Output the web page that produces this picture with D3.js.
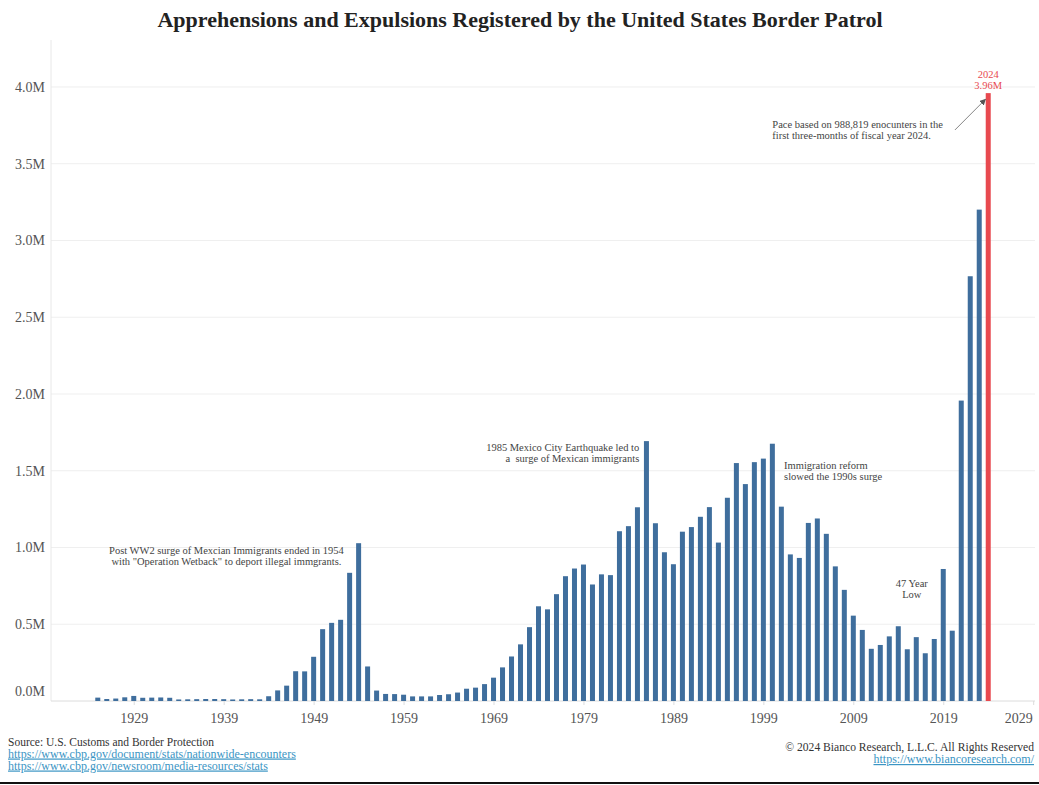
<!DOCTYPE html>
<html>
<head>
<meta charset="utf-8">
<script src="https://cdn.jsdelivr.net/npm/d3@7"></script>
<style>
    body { margin: 0; background: #fff; }
    svg { display: block; font-family: "Liberation Serif", "Times New Roman", serif; }
    .tick-label { fill: #555; font-size: 14px; }
    .note { fill: #444; font-size: 10.5px; }
    .link { fill: #3b95c4; text-decoration: underline; }
</style>
</head>
<body>
<div id="chart"></div>
<script>
// data (thousands of apprehensions / encounters per fiscal year)

var firstYear = 1925
var apprehensions = [
    22, 13, 16, 24, 33, 21, 22, 23, 21, 10,
    11, 12, 13, 13, 12, 10, 11, 12, 11, 31,
    69, 100, 194, 193, 288, 468, 509, 529, 835, 1028,
    225, 68, 46, 45, 41, 30, 30, 30, 39, 44,
    55, 80, 87, 110, 152, 219, 290, 369, 481, 617,
    597, 696, 813, 863, 889, 759, 825, 820, 1106, 1139,
    1262, 1693, 1158, 969, 891, 1103, 1133, 1200, 1263, 1032,
    1324, 1550, 1413, 1556, 1579, 1676, 1266, 955, 932, 1160,
    1189, 1089, 877, 724, 556, 463, 340, 365, 421, 487,
    337, 416, 311, 404, 860, 458, 1957, 2767, 3201, 3960
]
var years = d3.range(firstYear, firstYear + apprehensions.length)
var paceYear = 2024
var xTicks = [1929, 1939, 1949, 1959, 1969, 1979, 1989, 1999, 2009, 2019, 2029]
var yTicks = [0, 0.5, 1, 1.5, 2, 2.5, 3, 3.5, 4]

var notes = [
    {lines: ['Post WW2 surge of Mexcian Immigrants ended in 1954', 'with "Operation Wetback" to deport illegal immgrants.'], year: 1939.3, value: 0.955, anchor: 'middle'},
    {lines: ['1985 Mexico City Earthquake led to', 'a\u00a0 surge of Mexican immigrants'], year: 1985.2, value: 1.63, anchor: 'end'},
    {lines: ['Immigration reform', 'slowed the 1990s surge'], year: 2001.3, value: 1.51, anchor: 'start'},
    {lines: ['47 Year', 'Low'], year: 2015.5, value: 0.74, anchor: 'middle'},
    {lines: ['Pace based on 988,819 enocunters in the', 'first three-months of fiscal year 2024.'], year: 2000, value: 3.73, anchor: 'start'}
]

// setup SVG

var w = 1039
var h = 785
var plotLeft = 51
var plotRight = 1035
var plotTop = 40
var plotBottom = 701

var svg = d3.select("#chart")
    .append("svg")
    .attr("width", w)
    .attr("height", h)

var x = d3.scaleLinear()
    .domain([1919.8, 2029.2])
    .range([plotLeft, plotRight])

var y = d3.scaleLinear()
    .domain([0, 4.306])
    .range([plotBottom, plotTop])

// title

svg.append("text")
    .attr("x", 520)
    .attr("y", 27)
    .attr("text-anchor", "middle")
    .attr("font-size", 22)
    .attr("font-weight", "bold")
    .attr("fill", "#222")
    .text("Apprehensions and Expulsions Registered by the United States Border Patrol")

// grid and axes

svg.selectAll(".grid")
    .data(yTicks.slice(1))
    .enter()
    .append("line")
    .attr("x1", plotLeft)
    .attr("x2", plotRight)
    .attr("y1", d => y(d))
    .attr("y2", d => y(d))
    .attr("stroke", "#efefef")

svg.append("line")
    .attr("x1", plotLeft).attr("x2", plotLeft)
    .attr("y1", plotTop).attr("y2", plotBottom)
    .attr("stroke", "#e8e8e8")

var yAxis = svg.append("g")
    .attr("transform", "translate(" + plotLeft + ",0)")
    .call(d3.axisLeft(y).tickValues(yTicks).tickSize(0).tickPadding(6)
        .tickFormat(d => d3.format(".1f")(d) + "M"))
    .attr("font-family", null)
    .attr("font-size", null)
yAxis.select(".domain").remove()
yAxis.selectAll("text")
    .attr("class", "tick-label")
    .attr("dy", d => d === 0 ? "-0.4em" : "0.32em")

var xAxis = svg.append("g")
    .attr("transform", "translate(0," + plotBottom + ")")
    .call(d3.axisBottom(x).tickValues(xTicks).tickSize(4).tickPadding(8).tickFormat(d3.format("d")))
    .attr("font-family", null)
    .attr("font-size", null)
xAxis.select(".domain")
    .attr("d", "M" + plotLeft + ",0H" + plotRight)
    .attr("stroke", "#dcdcdc")
xAxis.selectAll(".tick line").attr("stroke", "#dcdcdc")
xAxis.selectAll("text")
    .attr("class", "tick-label")
// last label kept inside the frame
xAxis.selectAll(".tick text")
    .filter(d => d === 2029)
    .attr("text-anchor", "end")
    .attr("x", -1)

// bars

var barW = 5

svg.selectAll(".bar")
    .data(years)
    .enter()
    .append("rect")
    .attr("class", "bar")
    .attr("x", d => x(d) - barW / 2)
    .attr("width", barW)
    .attr("y", (d, i) => y(apprehensions[i] / 1000))
    .attr("height", (d, i) => plotBottom - y(apprehensions[i] / 1000))
    .attr("fill", d => d === paceYear ? "#e8494f" : "#3f6e9d")

// labels for the 2024 pace bar

var paceValue = apprehensions[years.indexOf(paceYear)] / 1000
var paceLabel = svg.append("text")
    .attr("text-anchor", "middle")
    .attr("font-size", 10.5)
    .attr("fill", "#e8494f")
paceLabel.append("tspan")
    .attr("x", x(paceYear))
    .attr("y", y(paceValue) - 15)
    .text(paceYear)
paceLabel.append("tspan")
    .attr("x", x(paceYear))
    .attr("y", y(paceValue) - 4)
    .text(d3.format(".2f")(paceValue) + "M")

// annotations

notes.forEach(function(n) {
    var t = svg.append("text")
        .attr("class", "note")
        .attr("text-anchor", n.anchor)
    n.lines.forEach(function(line, i) {
        t.append("tspan")
            .attr("x", x(n.year))
            .attr("y", y(n.value) + i * 11)
            .text(line)
    })
})

svg.append("defs")
    .append("marker")
    .attr("id", "head")
    .attr("viewBox", "0 0 10 10")
    .attr("refX", 9)
    .attr("refY", 5)
    .attr("markerWidth", 8)
    .attr("markerHeight", 8)
    .attr("orient", "auto")
    .append("path")
    .attr("d", "M0,0L10,5L0,10z")
    .attr("fill", "#555")

svg.append("line")
    .attr("x1", x(2020.3))
    .attr("y1", y(3.72))
    .attr("x2", x(2023.7))
    .attr("y2", y(3.92))
    .attr("stroke", "#666")
    .attr("stroke-width", 0.8)
    .attr("marker-end", "url(#head)")

// footer

var src = svg.append("text")
    .attr("font-size", 12)
    .attr("fill", "#333")
src.append("tspan").attr("x", 8).attr("y", 746).attr("font-size", 11.5).text("Source: U.S. Customs and Border Protection")
src.append("tspan").attr("x", 8).attr("y", 757.5).attr("class", "link").text("https://www.cbp.gov/document/stats/nationwide-encounters")
src.append("tspan").attr("x", 8).attr("y", 769.5).attr("class", "link").text("https://www.cbp.gov/newsroom/media-resources/stats")

var copy = svg.append("text")
    .attr("font-size", 12)
    .attr("fill", "#333")
    .attr("text-anchor", "end")
copy.append("tspan").attr("x", 1034).attr("y", 751).attr("font-size", 11.6).text("\u00a9 2024 Bianco Research, L.L.C. All Rights Reserved")
copy.append("tspan").attr("x", 1034).attr("y", 763).attr("class", "link").text("https://www.biancoresearch.com/")

svg.append("line")
    .attr("x1", 0).attr("x2", w)
    .attr("y1", 783).attr("y2", 783)
    .attr("stroke", "#111")
    .attr("stroke-width", 2)
</script>
</body>
</html>
